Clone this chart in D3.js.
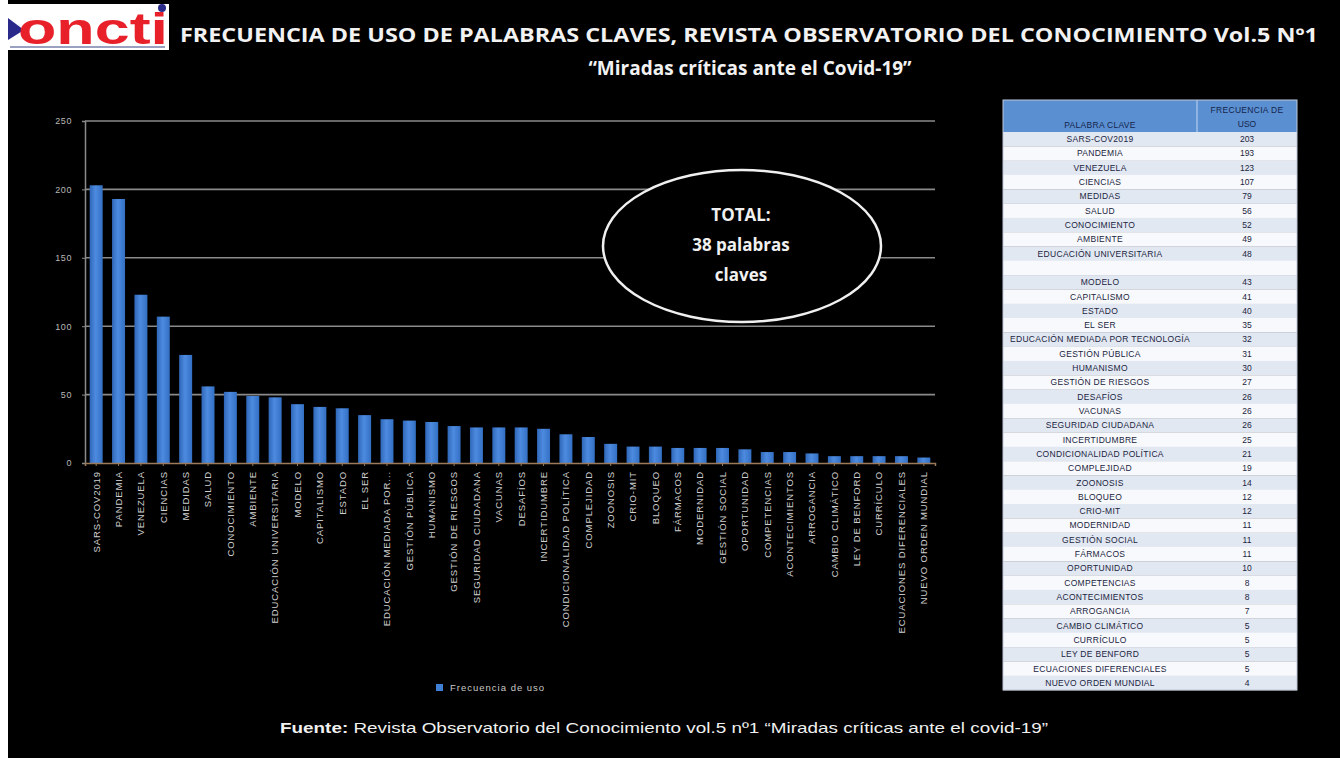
<!DOCTYPE html>
<html><head><meta charset="utf-8">
<script src="https://cdn.jsdelivr.net/npm/d3@7"></script>
<style>html,body{margin:0;padding:0;background:#fff;}svg{display:block;}</style>
</head><body>
<svg id="c" width="1340" height="759"></svg>
<script>
const categories = ["SARS-COV2019","PANDEMIA","VENEZUELA","CIENCIAS","MEDIDAS","SALUD","CONOCIMIENTO","AMBIENTE","EDUCACIÓN UNIVERSITARIA","MODELO","CAPITALISMO","ESTADO","EL SER","EDUCACIÓN MEDIADA POR...","GESTIÓN PÚBLICA","HUMANISMO","GESTIÓN DE RIESGOS","SEGURIDAD CIUDADANA","VACUNAS","DESAFÍOS","INCERTIDUMBRE","CONDICIONALIDAD POLÍTICA","COMPLEJIDAD","ZOONOSIS","CRIO-MIT","BLOQUEO","FÁRMACOS","MODERNIDAD","GESTIÓN SOCIAL","OPORTUNIDAD","COMPETENCIAS","ACONTECIMIENTOS","ARROGANCIA","CAMBIO CLIMÁTICO","LEY DE BENFORD","CURRÍCULO","ECUACIONES DIFERENCIALES","NUEVO ORDEN MUNDIAL"];
const frequency = [203,193,123,107,79,56,52,49,48,43,41,40,35,32,31,30,27,26,26,26,25,21,19,14,12,12,11,11,11,10,8,8,7,5,5,5,5,4];
const yTicks = [0,50,100,150,200,250];
const seriesName = "Frecuencia de uso";

const tableWords = ["SARS-COV2019","PANDEMIA","VENEZUELA","CIENCIAS","MEDIDAS","SALUD","CONOCIMIENTO","AMBIENTE","EDUCACIÓN UNIVERSITARIA","","MODELO","CAPITALISMO","ESTADO","EL SER","EDUCACIÓN MEDIADA POR TECNOLOGÍA","GESTIÓN PÚBLICA","HUMANISMO","GESTIÓN DE RIESGOS","DESAFÍOS","VACUNAS","SEGURIDAD CIUDADANA","INCERTIDUMBRE","CONDICIONALIDAD POLÍTICA","COMPLEJIDAD","ZOONOSIS","BLOQUEO","CRIO-MIT","MODERNIDAD","GESTIÓN SOCIAL","FÁRMACOS","OPORTUNIDAD","COMPETENCIAS","ACONTECIMIENTOS","ARROGANCIA","CAMBIO CLIMÁTICO","CURRÍCULO","LEY DE BENFORD","ECUACIONES DIFERENCIALES","NUEVO ORDEN MUNDIAL"];
const tableFreq = ["203","193","123","107","79","56","52","49","48","","43","41","40","35","32","31","30","27","26","26","26","25","21","19","14","12","12","11","11","11","10","8","8","7","5","5","5","5","4"];
const tableHeaders = ["PALABRA CLAVE","FRECUENCIA DE","USO"];

const svg = d3.select("#c");
svg.append("rect").attr("x",8).attr("y",0).attr("width",1332).attr("height",758).attr("fill","#000");

// logo
const logo = svg.append("g");
logo.append("rect").attr("x",8).attr("y",4).attr("width",161).attr("height",46).attr("fill","#fff");
logo.append("path").attr("d","M8,18 L24,30 L8,40 Z").attr("fill","#2a2a8a");
logo.append("text").attr("x",18).attr("y",44).attr("font-family","Liberation Sans, Arial, sans-serif")
  .attr("font-weight","bold").attr("font-size",44).attr("fill","#e8202a")
  .attr("textLength",150).attr("lengthAdjust","spacingAndGlyphs").text("oncti");
logo.append("circle").attr("cx",162).attr("cy",8).attr("r",4).attr("fill","#2a2a8a");
logo.append("rect").attr("x",10).attr("y",46).attr("width",155).attr("height",2).attr("fill","#9aa0c0");

// title
svg.append("text").attr("x",180).attr("y",42).attr("font-family","Open Sans, sans-serif").attr("font-weight","bold")
  .attr("font-size",19).attr("fill","#f2f2f2").attr("textLength",1138).attr("lengthAdjust","spacingAndGlyphs")
  .text("FRECUENCIA DE USO DE PALABRAS CLAVES, REVISTA OBSERVATORIO DEL CONOCIMIENTO Vol.5 Nº1");
svg.append("text").attr("x",750).attr("y",75).attr("text-anchor","middle").attr("font-family","Open Sans, sans-serif")
  .attr("font-weight","bold").attr("font-size",19).attr("fill","#f2f2f2")
  .text("“Miradas críticas ante el Covid-19”");

// chart
const x0 = 85, x1 = 935, yTop = 121, yBot = 463;
const x = d3.scaleBand().domain(categories).range([x0,x1]).paddingInner(0.42).paddingOuter(0.21);
const y = d3.scaleLinear().domain([0,250]).range([yBot,yTop]);

const grid = svg.append("g");
grid.selectAll("line").data(yTicks.filter(d=>d>0)).join("line")
  .attr("x1",x0).attr("x2",x1).attr("y1",d=>y(d)).attr("y2",d=>y(d))
  .attr("stroke","#8a8a8a").attr("stroke-width",1.6);

const defs = svg.append("defs");
const grad = defs.append("linearGradient").attr("id","bg").attr("x1",0).attr("x2",1).attr("y1",0).attr("y2",0);
grad.append("stop").attr("offset","0%").attr("stop-color","#2f67b8");
grad.append("stop").attr("offset","45%").attr("stop-color","#4d8be0");
grad.append("stop").attr("offset","100%").attr("stop-color","#3370c4");

svg.append("g").selectAll("rect").data(frequency).join("rect")
  .attr("x",(d,i)=>x(categories[i])).attr("width",x.bandwidth())
  .attr("y",d=>y(d)).attr("height",d=>yBot-y(d)).attr("fill","url(#bg)");

const yAxis = svg.append("g").attr("transform",`translate(${x0},0)`)
  .call(d3.axisLeft(y).tickValues(yTicks).tickSize(3).tickPadding(10));
yAxis.select(".domain").attr("stroke","#8a8a8a").attr("stroke-width",1.5);
yAxis.selectAll(".tick line").attr("stroke","#8a8a8a");
yAxis.selectAll(".tick text").attr("fill","#b8b8b8").attr("font-size",9).attr("letter-spacing",0.6)
  .attr("font-family","Liberation Sans, Arial, sans-serif");

const xAxis = svg.append("g").attr("transform",`translate(0,${yBot})`)
  .call(d3.axisBottom(x).tickSize(3).tickPadding(4));
xAxis.select(".domain").attr("stroke","#9a7a5a").attr("stroke-width",1.5);
xAxis.selectAll(".tick line").attr("stroke","#9a7a5a");
xAxis.selectAll(".tick text").attr("fill","#cfcfcf").attr("font-size",9.5).attr("letter-spacing",0.9)
  .attr("font-family","Liberation Sans, Arial, sans-serif")
  .attr("text-anchor","end").attr("dy","0.35em")
  .attr("transform","translate(0,5) rotate(-90)").attr("x",-3).attr("y",0);

// legend
svg.append("rect").attr("x",436).attr("y",684).attr("width",7).attr("height",7).attr("fill","#3f7fd6");
svg.append("text").attr("x",450).attr("y",691).attr("font-size",9.5).attr("letter-spacing",1).attr("fill","#c8c8c8")
  .attr("font-family","Liberation Sans, Arial, sans-serif").text(seriesName);

// ellipse annotation
svg.append("ellipse").attr("cx",742).attr("cy",246).attr("rx",139).attr("ry",76)
  .attr("fill","#000").attr("stroke","#f0f0f0").attr("stroke-width",2.5);
const et = svg.append("g").attr("font-family","Open Sans, sans-serif").attr("font-weight","bold")
  .attr("font-size",17).attr("fill","#f0f0f0").attr("text-anchor","middle");
["TOTAL:","38 palabras","claves"].forEach((t,i)=>et.append("text").attr("x",741).attr("y",221+i*30).text(t));

// table
const tx0 = 1003, tx1 = 1297, tColX = 1197, hTop = 100, hBot = 132;
const rowH = (690 - hBot) / tableWords.length;
const tf = "Liberation Sans Narrow, Liberation Sans, Arial, sans-serif";
const tg = svg.append("g");
tg.append("rect").attr("x",tx0).attr("y",hTop).attr("width",tx1-tx0).attr("height",hBot-hTop).attr("fill","#5a8fd2");
tg.append("line").attr("x1",tColX).attr("x2",tColX).attr("y1",hTop).attr("y2",hBot).attr("stroke","#9fc0e8").attr("stroke-width",1.5);
const rows = tg.selectAll("g.row").data(tableWords).join("g").attr("class","row");
rows.append("rect").attr("x",tx0).attr("width",tx1-tx0).attr("y",(d,i)=>hBot+i*rowH).attr("height",rowH+0.3)
  .attr("fill",(d,i)=>i%2===0?"#e2e8f2":"#f8f9fc");
rows.append("text").attr("x",(tx0+tColX)/2).attr("y",(d,i)=>hBot+i*rowH+rowH/2+3).attr("text-anchor","middle")
  .attr("font-size",8.5).attr("letter-spacing",0.3).attr("font-family",tf).attr("fill","#1a2440").text(d=>d);
rows.append("text").attr("x",(tColX+tx1)/2).attr("y",(d,i)=>hBot+i*rowH+rowH/2+3).attr("text-anchor","middle")
  .attr("font-size",8.5).attr("font-family",tf).attr("fill","#1a2440").text((d,i)=>tableFreq[i]);
tg.append("text").attr("x",(tx0+tColX)/2).attr("y",hBot-4).attr("text-anchor","middle").attr("font-size",8.5)
  .attr("letter-spacing",0.3).attr("font-family",tf).attr("fill","#15254a").text(tableHeaders[0]);
tg.append("text").attr("x",(tColX+tx1)/2).attr("y",hBot-19).attr("text-anchor","middle").attr("font-size",8.5)
  .attr("letter-spacing",0.3).attr("font-family",tf).attr("fill","#15254a").text(tableHeaders[1]);
tg.append("text").attr("x",(tColX+tx1)/2).attr("y",hBot-5).attr("text-anchor","middle").attr("font-size",8.5)
  .attr("font-family",tf).attr("fill","#15254a").text(tableHeaders[2]);
tg.append("rect").attr("x",tx0).attr("y",hTop).attr("width",tx1-tx0).attr("height",690-hTop)
  .attr("fill","none").attr("stroke","#c0c8d8").attr("stroke-width",1);

// footer
const ft = svg.append("text").attr("x",280).attr("y",733).attr("font-family","Liberation Sans, Arial, sans-serif")
  .attr("font-size",15).attr("fill","#f0f0f0").attr("textLength",768).attr("lengthAdjust","spacingAndGlyphs");
ft.append("tspan").attr("font-weight","bold").text("Fuente:");
ft.append("tspan").text(" Revista Observatorio del Conocimiento vol.5 nº1 “Miradas críticas ante el covid-19”");
</script>
</body></html>
